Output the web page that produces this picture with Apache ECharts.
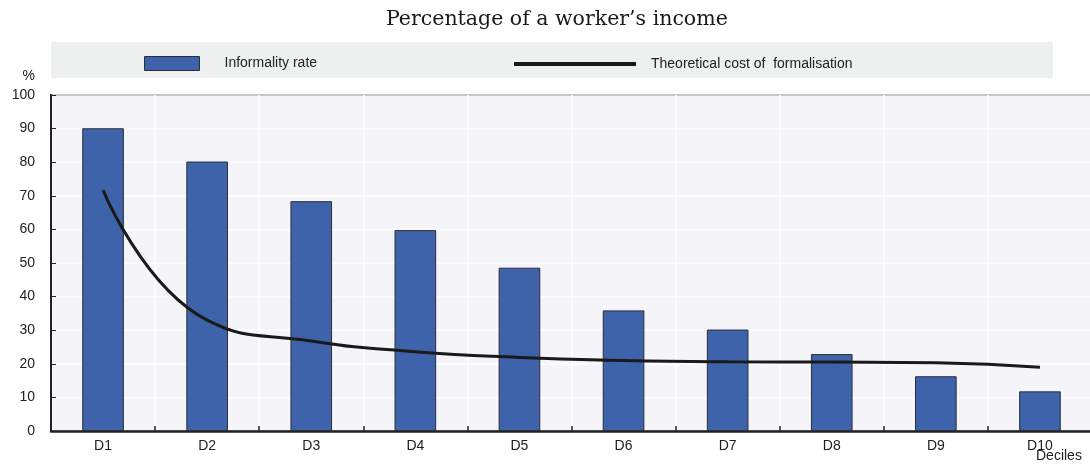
<!DOCTYPE html>
<html>
<head>
<meta charset="utf-8">
<script src="https://cdn.jsdelivr.net/npm/echarts@6/dist/echarts.min.js"></script>
<style>
html,body{margin:0;padding:0;background:#fff;}
#c{width:1090px;height:464px;}
</style>
</head>
<body>
<div id="c"></div>
<script>
const categories = ['D1','D2','D3','D4','D5','D6','D7','D8','D9','D10'];
const informalityRate = [90.1, 80.2, 68.4, 59.8, 48.6, 35.9, 30.2, 22.9, 16.3, 11.8];
const costFormalisation = [71.7, 33.0, 26.8, 23.6, 21.9, 21.0, 20.6, 20.5, 20.3, 19.0];
const yTicks = [0,10,20,30,40,50,60,70,80,90,100];
const barName = 'Informality rate';
const lineName = 'Theoretical cost of  formalisation';
const titleText = 'Percentage of a worker\u2019s income';
const xAxisName = 'Deciles';

const chart = echarts.init(document.getElementById('c'), null, {renderer:'canvas'});
const font = 'Liberation Sans, Arial, sans-serif';
chart.setOption({
  animation:false,
  backgroundColor:'#ffffff',
  title:{
    text:titleText, left:381, top:4,
    textStyle:{fontFamily:'DejaVu Serif, serif', fontWeight:'normal', fontSize:20.5, color:'#1a1a1a'}
  },
  graphic:[{
    type:'rect', shape:{x:51,y:42,width:1002,height:36}, z:-1,
    style:{fill:'#eef0ef'}
  },{
    type:'text', left:1036, top:449,
    style:{text:xAxisName, fontFamily:font, fontSize:14, fill:'#222'}
  }],
  legend:[{
    data:[barName], left:144, top:56, padding:0, itemWidth:55, itemHeight:14, icon:'rect',
    textStyle:{fontFamily:font, fontSize:14, color:'#222', padding:[0,0,0,20]},
    itemStyle:{borderColor:'#2a2f3a', borderWidth:1}
  },{
    data:[{name:lineName, icon:'rect'}], left:514, top:57, padding:0, itemWidth:122, itemHeight:4,
    textStyle:{fontFamily:font, fontSize:14, color:'#222', padding:[0,0,0,10]},
    itemStyle:{color:'#1a1a1a', borderWidth:0}
  }],
  grid:{left:51, right:-2, top:95, bottom:33, outerBoundsMode:'none', show:true, backgroundColor:'#f4f4f9', borderColor:'#222', borderWidth:2, containLabel:false},
  xAxis:{
    type:'category', data:categories, boundaryGap:true,
    axisLine:{show:true, lineStyle:{color:'#222', width:2.5}},
    axisTick:{show:true, inside:true, length:5, lineStyle:{color:'#222', width:1.5}},
    axisLabel:{fontFamily:font, fontSize:14, color:'#222', margin:8},
    splitLine:{show:true, lineStyle:{color:'#ffffff', width:1.5}}
  },
  yAxis:{
    type:'value', min:0, max:100, interval:10,
    name:'%', nameLocation:'end', nameGap:12,
    nameTextStyle:{fontFamily:font, fontSize:14, color:'#222', align:'right', padding:[0,16,0,0]},
    axisLine:{show:true, lineStyle:{color:'#222', width:2}},
    axisTick:{show:true, inside:true, length:5, lineStyle:{color:'#222', width:1}},
    axisLabel:{fontFamily:font, fontSize:14, color:'#222', margin:16, formatter:function(v){return yTicks.indexOf(v)>=0?String(v):'';}},
    splitLine:{show:true, lineStyle:{color:'#ffffff', width:1.5}}
  },
  series:[{
    name:barName, type:'bar', data:informalityRate, barWidth:'40%',
    itemStyle:{color:'#3e63aa', borderColor:'#2a2f3a', borderWidth:1}
  },{
    name:lineName, type:'line', data:costFormalisation, smooth:0.5,
    symbol:'none', lineStyle:{color:'#1a1a1a', width:3},
    itemStyle:{color:'#1a1a1a'}, z:3
  }]
});
</script>
</body>
</html>
